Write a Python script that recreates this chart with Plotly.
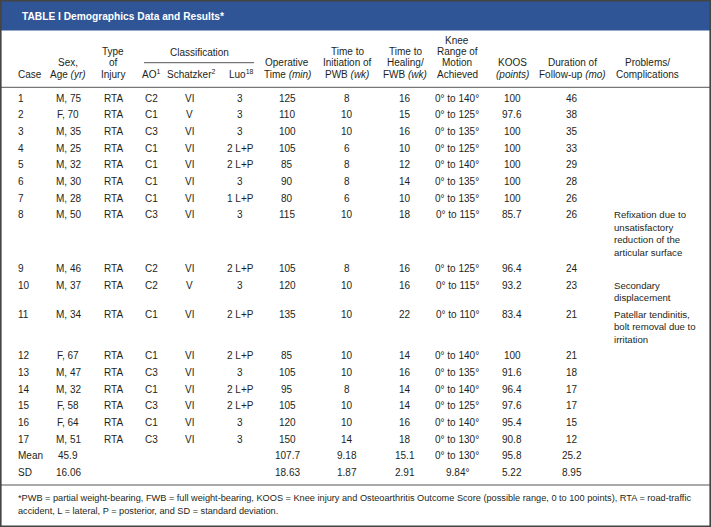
import plotly.graph_objects as go

W, H = 711, 527

# ---------------- data ----------------
case = [str(i) for i in range(1, 18)] + ["Mean", "SD"]
sex_age = ["M, 75", "F, 70", "M, 35", "M, 25", "M, 32", "M, 30", "M, 28", "M, 50", "M, 46",
           "M, 37", "M, 34", "F, 67", "M, 47", "M, 32", "F, 58", "F, 64", "M, 51", "45.9", "16.06"]
injury = ["RTA"] * 17 + ["", ""]
ao = ["C2", "C1", "C3", "C1", "C1", "C1", "C1", "C3", "C2", "C2", "C1", "C1", "C3", "C1", "C3",
      "C1", "C3", "", ""]
schatzker = ["VI", "V", "VI", "VI", "VI", "VI", "VI", "VI", "VI", "V", "VI", "VI", "VI", "VI",
             "VI", "VI", "VI", "", ""]
luo = ["3", "3", "3", "2 L+P", "2 L+P", "3", "1 L+P", "3", "2 L+P", "3", "2 L+P", "2 L+P", "3",
       "2 L+P", "2 L+P", "3", "3", "", ""]
operative_time = ["125", "110", "100", "105", "85", "90", "80", "115", "105", "120", "135", "85",
                  "105", "95", "105", "120", "150", "107.7", "18.63"]
time_pwb = ["8", "10", "10", "6", "8", "8", "6", "10", "8", "10", "10", "10", "10", "8", "10",
            "10", "14", "9.18", "1.87"]
time_fwb = ["16", "15", "16", "10", "12", "14", "10", "18", "16", "16", "22", "14", "16", "14",
            "14", "16", "18", "15.1", "2.91"]
knee_rom = ["0° to 140°", "0° to 125°", "0° to 135°", "0° to 125°", "0° to 140°", "0° to 135°",
            "0° to 135°", "0° to 115°", "0° to 125°", "0° to 115°", "0° to 110°", "0° to 140°",
            "0° to 135°", "0° to 140°", "0° to 125°", "0° to 140°", "0° to 130°", "0° to 130°",
            "9.84°"]
koos = ["100", "97.6", "100", "100", "100", "100", "100", "85.7", "96.4", "93.2", "83.4", "100",
        "91.6", "96.4", "97.6", "95.4", "90.8", "95.8", "5.22"]
follow_up = ["46", "38", "35", "33", "29", "28", "26", "26", "24", "23", "21", "21", "18", "17",
             "17", "15", "12", "25.2", "8.95"]
problems = [[], [], [], [], [], [], [],
            ["Refixation due to", "unsatisfactory", "reduction of the", "articular surface"],
            [], ["Secondary", "displacement"],
            ["Patellar tendinitis,", "bolt removal due to", "irritation"],
            [], [], [], [], [], [], [], []]

title = "TABLE I Demographics Data and Results*"
group_header = "Classification"
headers = [
    ["Case"],
    ["Sex,", "Age <i>(yr)</i>"],
    ["Type", "of", "Injury"],
    ["AO<sup>1</sup>"],
    ["Schatzker<sup>2</sup>"],
    ["Luo<sup>18</sup>"],
    ["Operative", "Time <i>(min)</i>"],
    ["Time to", "Initiation of", "PWB <i>(wk)</i>"],
    ["Time to", "Healing/", "FWB <i>(wk)</i>"],
    ["Knee", "Range of", "Motion", "Achieved"],
    ["KOOS", "<i>(points)</i>"],
    ["Duration of", "Follow-up <i>(mo)</i>"],
    ["Problems/", "Complications"],
]
footnote = ["*PWB = partial weight-bearing, FWB = full weight-bearing, KOOS = Knee injury and "
            "Osteoarthritis Outcome Score (possible range, 0 to 100 points), RTA = road-traffic",
            "accident, L = lateral, P = posterior, and SD = standard deviation."]

# ---------------- layout ----------------
columns = [case, sex_age, injury, ao, schatzker, luo, operative_time, time_pwb, time_fwb,
           knee_rom, koos, follow_up]
col_x = [17, 68, 113, 151, 189, 240, 287, 347, 405, 457, 512, 572]
col_anchor = ["left"] + ["center"] * 11
head_x = [17, 68, 113, 151, 191, 241, 287, 347, 405, 457, 512, 572, 647]
head_anchor = ["left"] + ["center"] * 12
prob_x = 613

FONT = "Liberation Sans, Arial, sans-serif"
TXT = "#231f20"
FS = 10

row_first = 98.3
row_h = 16.65
line_h = 12.4
row_y = []
y = row_first
for p in problems:
    row_y.append(y)
    extra = max(len(p) - 1, 0)
    y += row_h + extra * line_h

fig = go.Figure()
fig.add_trace(go.Scatter(x=[0, W], y=[0, H], mode="markers", marker=dict(opacity=0),
                         hoverinfo="skip", showlegend=False))

ann = []


def add(x, y, text, anchor="center", size=FS, color=TXT, bold=False):
    ann.append(dict(x=x, y=y, xref="x", yref="y", text=("<b>%s</b>" % text) if bold else text,
                    showarrow=False, xanchor=anchor, yanchor="middle",
                    font=dict(family=FONT, size=size, color=color), borderpad=0))


# title
add(20.5, 16.5, title, anchor="left", size=10.2, color="white", bold=True)

# headers
header_bottom = 74.2
head_lh = 11.3
for hx, ha, lines in zip(head_x, head_anchor, headers):
    n = len(lines)
    for i, t in enumerate(lines):
        add(hx, header_bottom - (n - 1 - i) * head_lh, t, anchor=ha)
add(199, 52.5, group_header)

# body
for cx, ca, vals in zip(col_x, col_anchor, columns):
    for yy, v in zip(row_y, vals):
        if v:
            add(cx, yy, v, anchor=ca)
for yy, lines in zip(row_y, problems):
    for i, t in enumerate(lines):
        add(prob_x, yy + i * line_h, t, anchor="left", size=9.6)

# footnote
for i, t in enumerate(footnote):
    add(17, 498.3 + i * 12.4, t, anchor="left", size=9.2)

shapes = [
    dict(type="rect", x0=0, x1=W, y0=0, y1=30.5, xref="x", yref="y",
         fillcolor="#2f5597", line=dict(width=0), layer="below"),
    dict(type="line", x0=144, x1=254, y0=62.7, y1=62.7, xref="x", yref="y",
         line=dict(color="#555555", width=1)),
    dict(type="line", x0=0, x1=W, y0=87.3, y1=87.3, xref="x", yref="y",
         line=dict(color="#555555", width=1)),
    dict(type="line", x0=0, x1=W, y0=485, y1=485, xref="x", yref="y",
         line=dict(color="#555555", width=1)),
    dict(type="rect", x0=0.8, x1=W - 0.8, y0=0.8, y1=H - 0.8, xref="x", yref="y",
         line=dict(color="#444444", width=1.6), fillcolor="rgba(0,0,0,0)"),
]

fig.update_layout(
    width=W, height=H, autosize=False,
    margin=dict(l=0, r=0, t=0, b=0, pad=0),
    paper_bgcolor="white", plot_bgcolor="white",
    xaxis=dict(range=[0, W], visible=False, fixedrange=True),
    yaxis=dict(range=[H, 0], visible=False, fixedrange=True),
    annotations=ann, shapes=shapes, showlegend=False,
)
fig.write_html("out.html", config={"displayModeBar": False},
               post_script="document.body.style.margin='0';document.body.style.overflow='hidden';")
